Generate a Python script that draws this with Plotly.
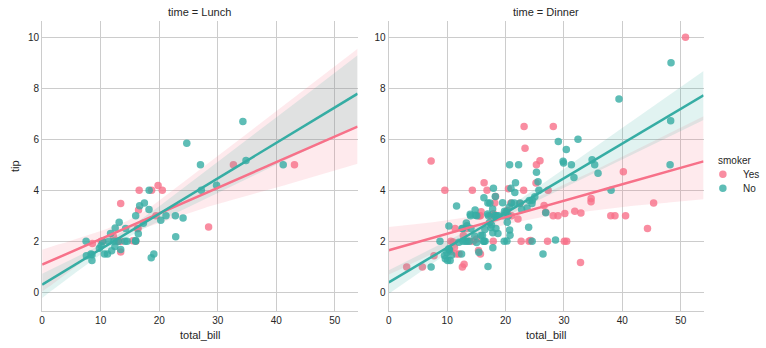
import numpy as np
import plotly.graph_objects as go

# ---- data (tips: total_bill / tip, split by time and smoker) ----
lunch_yes_bill = [19.44, 32.68, 16.0, 19.81, 28.44, 15.48, 16.58, 10.34, 43.11, 13.0, 13.51, 18.71,
                  12.74, 13.0, 16.4, 20.53, 16.47, 12.16, 13.42, 8.58, 13.42, 16.27, 10.09]
lunch_yes_tip = [3.0, 5.0, 2.0, 4.19, 2.56, 2.02, 4.0, 2.0, 5.0, 2.0, 2.0, 4.0,
                 2.01, 2.0, 2.5, 4.0, 3.23, 2.2, 3.48, 1.92, 1.58, 2.5, 2.0]
lunch_no_bill = [27.2, 22.76, 17.29, 16.66, 10.07, 15.98, 34.83, 13.03, 18.28, 24.71, 21.16,
                 10.65, 12.43, 24.08, 11.69, 13.42, 14.26, 15.95, 12.48, 29.8, 8.52, 14.52, 11.38,
                 22.82, 19.08, 20.27, 11.17, 12.26, 18.26, 8.51, 10.33, 14.15, 13.16, 17.47, 34.3,
                 41.19, 27.05, 16.43, 8.35, 18.64, 11.87, 9.78, 7.51, 7.56, 15.98]
lunch_no_tip = [4.0, 3.0, 2.71, 3.4, 1.83, 2.03, 5.17, 2.0, 4.0, 5.85, 3.0,
                1.5, 1.8, 2.92, 2.31, 1.68, 2.5, 2.0, 2.52, 4.2, 1.48, 2.0, 2.0,
                2.18, 1.5, 2.83, 1.5, 2.0, 3.25, 1.25, 2.0, 2.0, 2.75, 3.5, 6.7,
                5.0, 5.0, 2.3, 1.5, 1.36, 1.63, 1.73, 2.0, 1.44, 3.0]
dinner_yes_bill = [38.01, 11.24, 20.29, 13.81, 11.02, 18.29, 3.07, 15.01, 26.86, 25.28, 17.92,
                   28.97, 5.75, 16.32, 40.17, 27.28, 12.03, 21.01, 11.35, 15.38, 44.3, 22.42,
                   15.36, 20.49, 25.21, 14.31, 17.51, 10.59, 10.63, 50.81, 15.81, 7.25, 31.85,
                   16.82, 32.9, 17.89, 14.48, 9.6, 34.63, 34.65, 23.33, 45.35, 23.17, 40.55,
                   20.9, 30.46, 18.15, 23.1, 15.69, 26.59, 38.73, 24.27, 12.76, 30.06, 25.89,
                   13.27, 28.17, 12.9, 28.15, 11.59, 7.74, 30.14, 22.12, 24.01, 15.69, 15.53,
                   12.6, 32.83, 27.18, 22.67]
dinner_yes_tip = [3.0, 1.76, 3.21, 2.0, 1.98, 3.76, 1.0, 2.09, 3.14, 5.0, 3.08,
                  3.0, 1.0, 4.3, 4.73, 4.0, 1.5, 3.0, 2.5, 3.0, 2.5, 3.48,
                  1.64, 4.06, 4.29, 4.0, 3.0, 1.61, 2.0, 10.0, 3.16, 5.15, 3.18,
                  4.0, 3.11, 2.0, 2.0, 4.0, 3.55, 3.68, 5.65, 3.5, 6.5, 3.0,
                  3.5, 2.0, 3.5, 4.0, 1.5, 3.41, 3.0, 2.03, 2.23, 2.0, 5.16,
                  2.5, 6.5, 1.1, 3.0, 1.5, 1.44, 3.09, 2.88, 2.0, 3.0, 3.0,
                  1.0, 1.17, 2.0, 2.0]
dinner_no_bill = [16.99, 10.34, 21.01, 23.68, 24.59, 25.29, 8.77, 26.88, 15.04, 14.78, 10.27,
                  35.26, 15.42, 18.43, 14.83, 21.58, 10.33, 16.29, 16.97, 20.65, 17.92, 20.29,
                  15.77, 39.42, 19.82, 17.81, 13.37, 12.69, 21.7, 19.65, 9.55, 18.35, 15.06,
                  20.69, 17.78, 24.06, 16.31, 16.93, 18.69, 31.27, 16.04, 17.46, 13.94, 9.68,
                  30.4, 18.29, 22.23, 32.4, 28.55, 18.04, 12.54, 10.29, 34.81, 9.94, 25.56,
                  19.49, 26.41, 48.27, 17.59, 20.08, 16.45, 20.23, 12.02, 17.07, 14.73, 10.51,
                  22.49, 22.75, 12.46, 20.92, 18.24, 14.0, 7.25, 38.07, 23.95, 25.71, 17.31,
                  29.93, 14.07, 13.13, 17.26, 24.55, 19.77, 29.85, 48.17, 25.0, 13.39, 16.49,
                  21.5, 12.66, 16.21, 13.81, 24.52, 20.76, 31.71, 20.69, 48.33, 20.45, 13.28,
                  11.61, 10.77, 10.07, 35.83, 29.03, 17.82, 18.78]
dinner_no_tip = [1.01, 1.66, 3.5, 3.31, 3.61, 4.71, 2.0, 3.12, 1.96, 3.23, 1.71,
                 5.0, 1.57, 3.0, 3.02, 3.92, 1.67, 3.71, 3.5, 3.35, 4.08, 2.75,
                 2.23, 7.58, 3.18, 2.34, 2.0, 2.0, 4.3, 3.0, 1.45, 2.5, 3.0,
                 2.45, 3.27, 3.6, 2.0, 3.07, 2.31, 5.0, 2.24, 2.54, 3.06, 1.32,
                 5.6, 3.0, 5.0, 6.0, 2.05, 3.0, 2.5, 2.6, 5.2, 1.56, 4.34,
                 3.51, 1.5, 6.73, 2.64, 3.15, 2.47, 2.01, 1.97, 3.0, 2.2, 1.25,
                 3.5, 3.25, 1.5, 4.08, 3.76, 3.0, 1.0, 4.0, 2.55, 4.0, 3.5,
                 5.07, 2.5, 2.0, 2.74, 2.0, 2.0, 5.14, 5.0, 3.75, 2.61, 2.0,
                 3.5, 2.5, 2.0, 2.0, 3.48, 2.24, 4.5, 5.0, 9.0, 3.0, 2.72,
                 3.39, 1.47, 1.25, 4.67, 5.92, 1.75, 3.0]

panel_titles = ["time = Lunch", "time = Dinner"]
hue_names = ["Yes", "No"]
colors = {"Yes": (247, 113, 137), "No": (54, 173, 164)}
x_ticks = [0, 10, 20, 30, 40, 50]
y_ticks = [0, 2, 4, 6, 8, 10]

panels = [
    {"Yes": (lunch_yes_bill, lunch_yes_tip), "No": (lunch_no_bill, lunch_no_tip)},
    {"Yes": (dinner_yes_bill, dinner_yes_tip), "No": (dinner_no_bill, dinner_no_tip)},
]

W, H = 766, 348
XR = [0, 53.9]
YR = [-0.73, 10.64]

rng = np.random.default_rng(7)


def fit(xs, ys, grid, n_boot=1000):
    """Linear fit with a 95% bootstrap (row resampling) confidence band, as seaborn's regplot does."""
    x = np.asarray(xs, float)
    y = np.asarray(ys, float)
    n = len(x)
    b, a = np.polyfit(x, y, 1)
    yhat = a + b * grid
    idx = rng.integers(0, n, size=(n_boot, n))
    bx, by = x[idx], y[idx]
    mx, my = bx.mean(1, keepdims=True), by.mean(1, keepdims=True)
    slope = ((bx - mx) * (by - my)).sum(1) / ((bx - mx) ** 2).sum(1)
    icpt = my[:, 0] - slope * mx[:, 0]
    preds = icpt[:, None] + slope[:, None] * grid[None, :]
    lo, hi = np.percentile(preds, [2.5, 97.5], axis=0)
    return yhat, lo, hi


fig = go.Figure()
grid = np.linspace(XR[0], XR[1], 200)

for i, panel in enumerate(panels):
    xa = "x" if i == 0 else "x2"
    ya = "y" if i == 0 else "y2"
    lines = []
    for h in hue_names:
        r, g, b_ = colors[h]
        xs, ys = panel[h]
        fig.add_trace(go.Scatter(x=xs, y=ys, mode="markers", xaxis=xa, yaxis=ya,
                                 marker=dict(size=7.5, color=f"rgb({r},{g},{b_})", opacity=0.8,
                                             line=dict(width=0)),
                                 showlegend=False, hoverinfo="skip"))
        yhat, lo, hi = fit(xs, ys, grid)
        fig.add_trace(go.Scatter(x=np.concatenate([grid, grid[::-1]]),
                                 y=np.concatenate([hi, lo[::-1]]),
                                 fill="toself", fillcolor=f"rgba({r},{g},{b_},0.15)",
                                 line=dict(width=0), mode="lines", xaxis=xa, yaxis=ya,
                                 showlegend=False, hoverinfo="skip"))
        lines.append((grid, yhat, f"rgb({r},{g},{b_})"))
    for gx, gy, c in lines:
        fig.add_trace(go.Scatter(x=gx, y=gy, mode="lines", xaxis=xa, yaxis=ya,
                                 line=dict(color=c, width=2.5),
                                 showlegend=False, hoverinfo="skip"))

dom_left = [39.3 / W, 356.0 / W]
dom_right = [387.3 / W, 703.3 / W]
ydom = [1 - 311.0 / H, 1 - 21.0 / H]

axis_common = dict(showgrid=True, gridcolor="#cccccc", gridwidth=1, zeroline=False,
                   showline=True, linecolor="#cccccc", linewidth=1.25, ticks="",
                   tickfont=dict(family="Liberation Sans, Arial, sans-serif", size=10, color="#262626"))

fig.update_layout(
    width=W, height=H, margin=dict(l=0, r=0, t=0, b=0),
    paper_bgcolor="white", plot_bgcolor="white", showlegend=False,
    xaxis=dict(domain=dom_left, range=XR, tickvals=x_ticks, anchor="y", **axis_common),
    yaxis=dict(domain=ydom, range=YR, tickvals=y_ticks, anchor="x", **axis_common),
    xaxis2=dict(domain=dom_right, range=XR, tickvals=x_ticks, anchor="y2", **axis_common),
    yaxis2=dict(domain=ydom, range=YR, tickvals=y_ticks, anchor="x2", **axis_common),
)

font = dict(family="Liberation Sans, Arial, sans-serif", color="#262626")
ann = []
for i, t in enumerate(panel_titles):
    d = dom_left if i == 0 else dom_right
    cx = (d[0] + d[1]) / 2
    ann.append(dict(text=t, x=cx, y=1 - 12.0 / H, xref="paper", yref="paper", showarrow=False,
                    xanchor="center", yanchor="middle", font=dict(size=11, **font)))
    ann.append(dict(text="total_bill", x=cx, y=1 - 335.0 / H, xref="paper", yref="paper",
                    showarrow=False, xanchor="center", yanchor="middle", font=dict(size=11, **font)))
ann.append(dict(text="tip", x=12.0 / W, y=1 - 166.0 / H, xref="paper", yref="paper", showarrow=False,
                textangle=-90, xanchor="center", yanchor="middle", font=dict(size=11, **font)))
# legend
ann.append(dict(text="smoker", x=734.5 / W, y=1 - 160.0 / H, xref="paper", yref="paper",
                showarrow=False, xanchor="center", yanchor="middle", font=dict(size=10, **font)))
shapes = []
for k, h in enumerate(hue_names):
    yy = 1 - (174.3 + 14 * k) / H
    r, g, b_ = colors[h]
    ann.append(dict(text=h, x=741.0 / W, y=yy, xref="paper", yref="paper", showarrow=False,
                    xanchor="left", yanchor="middle", font=dict(size=10, **font)))
    shapes.append(dict(type="circle", xref="paper", yref="paper", xsizemode="pixel", ysizemode="pixel",
                       xanchor=722.7 / W, yanchor=yy, x0=-3.75, x1=3.75, y0=-3.75, y1=3.75,
                       fillcolor=f"rgba({r},{g},{b_},0.8)", line=dict(width=0)))
fig.update_layout(annotations=ann, shapes=shapes)

fig.write_html("out.html")
